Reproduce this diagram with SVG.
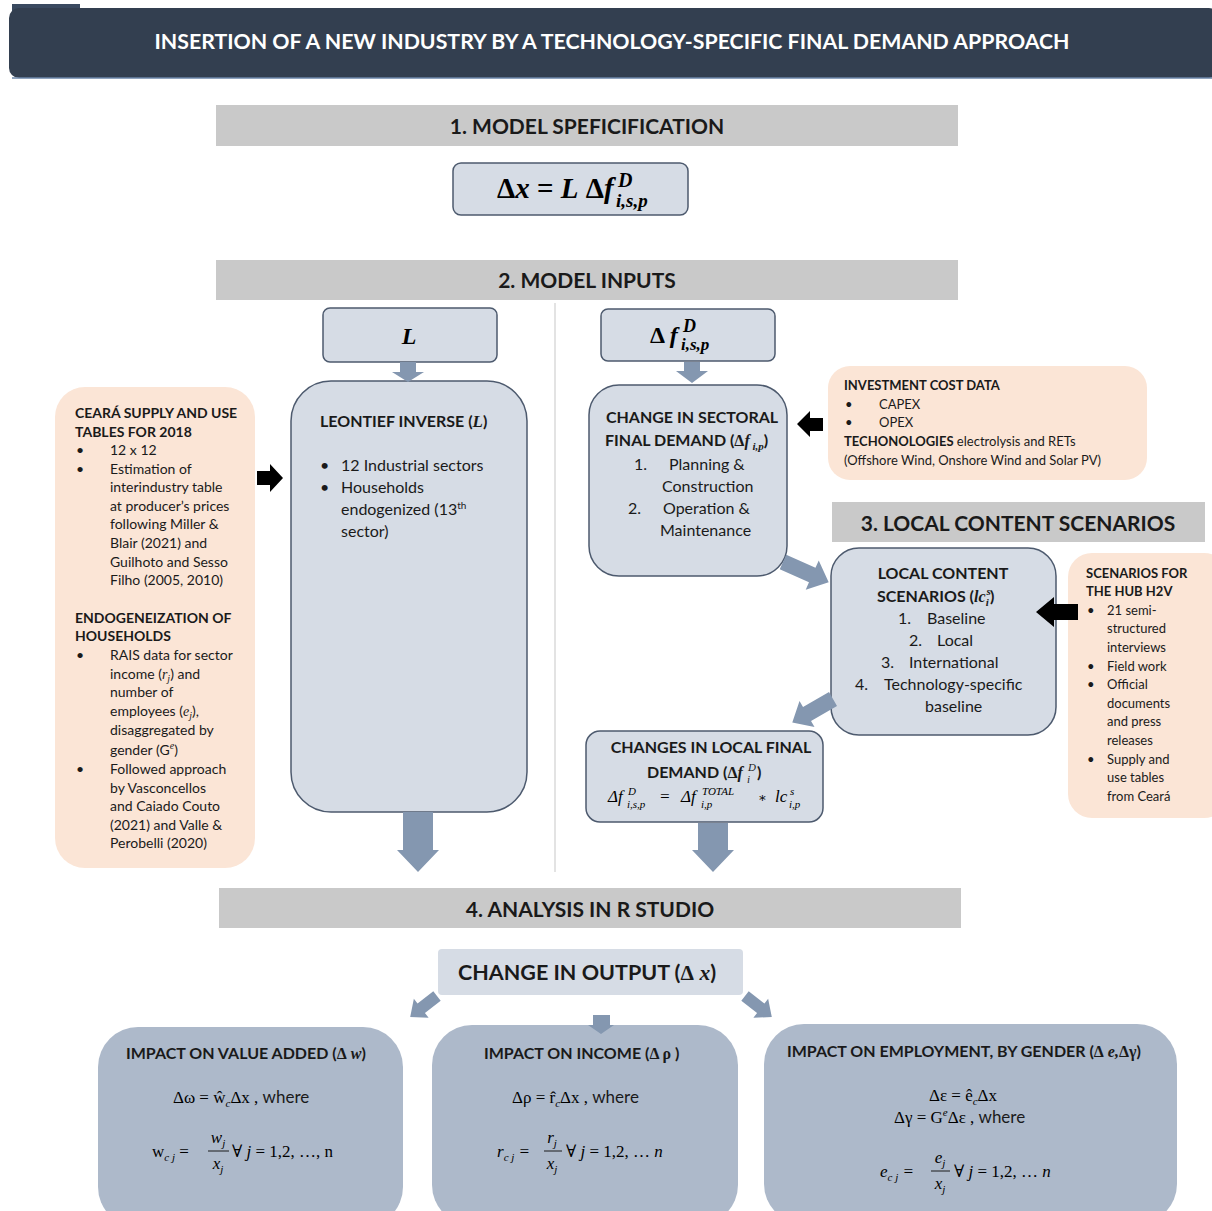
<svg xmlns="http://www.w3.org/2000/svg" width="1212" height="1211" viewBox="0 0 1212 1211">
<style>
.t{font-family:Lato,"Open Sans","Liberation Sans",sans-serif;fill:#1a1a1a}
.b{font-weight:bold}
.m{font-family:"Liberation Serif","DejaVu Serif",serif;font-style:italic}
.mu{font-family:"Liberation Serif","DejaVu Serif",serif}
.hdr{fill:#C9C9C9}
.box{fill:#D6DCE5;stroke:#4D5A6E;stroke-width:1.5}
.peach{fill:#FBE5D6}
.bot{fill:#ADB9CA}
.arr{fill:#8497B0}
.blk{fill:#000}
</style>
<rect width="1212" height="1211" fill="#fff"/>
<g id="title">
<rect x="12" y="4" width="68" height="8" fill="#3a4a60"/>
<rect x="9" y="8" width="1210" height="70" rx="10" fill="#333F50"/>
<line x1="12" y1="78" x2="1212" y2="78" stroke="#6b86a8" stroke-width="1.5"/>
<text x="612" y="49" text-anchor="middle" class="t b" style="fill:#fff" font-size="20" textLength="915" lengthAdjust="spacingAndGlyphs">INSERTION OF A NEW INDUSTRY BY A TECHNOLOGY-SPECIFIC FINAL DEMAND APPROACH</text>
</g>
<g id="sec1">
<rect x="216" y="105" width="742" height="41" class="hdr"/>
<text x="587" y="134" text-anchor="middle" class="t b" font-size="21">1. MODEL SPEFICIFICATION</text>
</g>
<g id="formula-main">
<rect x="453" y="163" width="235" height="52" rx="8" class="box"/>
<text x="497" y="198" class="mu b" font-size="29">Δ<tspan class="m">x</tspan> = <tspan class="m">L</tspan> Δ<tspan class="m">f</tspan></text>
<text x="618" y="187" class="m b" font-size="20">D</text>
<text x="616" y="207" class="m b" font-size="19">i,s,p</text>
</g>
<g id="sec2">
<rect x="216" y="260" width="742" height="40" class="hdr"/>
<text x="587" y="288" text-anchor="middle" class="t b" font-size="21">2. MODEL INPUTS</text>
</g>
<line x1="555" y1="303" x2="555" y2="872" stroke="#E3E3E3" stroke-width="2"/>
<g id="node-L">
<rect x="323" y="308" width="174" height="54" rx="7" class="box"/>
<text x="409" y="344" text-anchor="middle" class="m b" font-size="24">L</text>
</g>
<g id="node-df">
<rect x="601" y="309" width="174" height="52" rx="7" class="box"/>
<text x="650" y="343" class="mu b" font-size="24">Δ <tspan class="m">f</tspan></text>
<text x="683" y="332" class="m b" font-size="18">D</text>
<text x="681" y="350" class="m b" font-size="17">i,s,p</text>
</g>
<g id="node-leontief">
<rect x="291" y="381" width="236" height="431" rx="40" class="box"/>
<text x="320" y="427" class="t b" font-size="16">LEONTIEF INVERSE (<tspan class="m" font-size="17">L</tspan>)</text>
<text x="320" y="471" class="t" font-size="16">•</text>
<text x="341" y="471" class="t" font-size="16">12 Industrial sectors</text>
<text x="320" y="493" class="t" font-size="16">•</text>
<text x="341" y="493" class="t" font-size="16">Households</text>
<text x="341" y="515" class="t" font-size="16">endogenized (13<tspan font-size="10" dy="-6">th</tspan></text>
<text x="341" y="537" class="t" font-size="16">sector)</text>
</g>
<g id="node-ceara">
<rect x="55" y="387" width="200" height="481" rx="30" class="peach"/>
<g class="t" font-size="14">
<text x="75" y="418" class="b">CEARÁ SUPPLY AND USE</text>
<text x="75" y="437" class="b">TABLES FOR 2018</text>
<text x="76" y="455">•</text><text x="110" y="455">12 x 12</text>
<text x="76" y="474">•</text><text x="110" y="474">Estimation of</text>
<text x="110" y="492">interindustry table</text>
<text x="110" y="511">at producer’s prices</text>
<text x="110" y="529">following Miller &amp;</text>
<text x="110" y="548">Blair (2021) and</text>
<text x="110" y="567">Guilhoto and Sesso</text>
<text x="110" y="585">Filho (2005, 2010)</text>
<text x="75" y="623" class="b">ENDOGENEIZATION OF</text>
<text x="75" y="641" class="b">HOUSEHOLDS</text>
<text x="76" y="660">•</text><text x="110" y="660">RAIS data for sector</text>
<text x="110" y="679">income (<tspan class="m">r<tspan font-size="10" dy="3">j</tspan></tspan><tspan dy="-3">) and</tspan></text>
<text x="110" y="697">number of</text>
<text x="110" y="716">employees (<tspan class="m">e<tspan font-size="10" dy="3">j</tspan></tspan><tspan dy="-3">),</tspan></text>
<text x="110" y="735">disaggregated by</text>
<text x="110" y="755">gender (G<tspan class="m" font-size="10" dy="-6">e</tspan><tspan dy="6">)</tspan></text>
<text x="76" y="774">•</text><text x="110" y="774">Followed approach</text>
<text x="110" y="793">by Vasconcellos</text>
<text x="110" y="811">and Caiado Couto</text>
<text x="110" y="830">(2021) and Valle &amp;</text>
<text x="110" y="848">Perobelli (2020)</text>
</g>
</g>
<g id="node-sectoral">
<rect x="589" y="385" width="198" height="191" rx="30" class="box"/>
<g class="t" font-size="16">
<text x="692" y="423" text-anchor="middle" class="b">CHANGE IN SECTORAL</text>
<text x="605" y="446" class="b">FINAL DEMAND (<tspan class="mu">Δ</tspan><tspan class="m">f</tspan><tspan class="m" font-size="11" dy="4"> i,p</tspan><tspan dy="-4">)</tspan></text>
<text x="634" y="470">1.</text><text x="669" y="470">Planning &amp;</text>
<text x="662" y="492">Construction</text>
<text x="628" y="514">2.</text><text x="663" y="514">Operation &amp;</text>
<text x="660" y="536">Maintenance</text>
</g>
</g>
<g id="node-investment">
<rect x="828" y="366" width="319" height="114" rx="22" class="peach"/>
<g class="t" font-size="13">
<text x="844" y="390" class="b">INVESTMENT COST DATA</text>
<text x="845" y="409">•</text><text x="879" y="409">CAPEX</text>
<text x="845" y="427">•</text><text x="879" y="427">OPEX</text>
<text x="844" y="446"><tspan class="b">TECHONOLOGIES</tspan> electrolysis and RETs</text>
<text x="844" y="465">(Offshore Wind, Onshore Wind and Solar PV)</text>
</g>
</g>
<g id="sec3">
<rect x="832" y="502" width="373" height="40" class="hdr"/>
<text x="1018" y="531" text-anchor="middle" class="t b" font-size="21">3. LOCAL CONTENT SCENARIOS</text>
</g>
<g id="node-localcontent">
<rect x="831" y="548" width="225" height="187" rx="28" class="box"/>
<g class="t" font-size="16">
<text x="943" y="579" text-anchor="middle" class="b">LOCAL CONTENT</text>
<text x="877" y="602" class="b">SCENARIOS (<tspan class="m">lc</tspan><tspan class="m" font-size="11" dx="1" dy="-7">s</tspan><tspan class="m" font-size="11" dx="-5" dy="11">i</tspan><tspan dx="1" dy="-4">)</tspan></text>
<text x="898" y="624">1.</text><text x="927" y="624">Baseline</text>
<text x="909" y="646">2.</text><text x="937" y="646">Local</text>
<text x="881" y="668">3.</text><text x="909" y="668">International</text>
<text x="855" y="690">4.</text><text x="884" y="690">Technology-specific</text>
<text x="925" y="712">baseline</text>
</g>
</g>
<g id="node-hub">
<rect x="1068" y="553" width="160" height="265" rx="24" class="peach"/>
<g class="t" font-size="13">
<text x="1086" y="578" class="b">SCENARIOS FOR</text>
<text x="1086" y="596" class="b">THE HUB H2V</text>
<text x="1087" y="615">•</text><text x="1107" y="615">21 semi-</text>
<text x="1107" y="633">structured</text>
<text x="1107" y="652">interviews</text>
<text x="1087" y="671">•</text><text x="1107" y="671">Field work</text>
<text x="1087" y="689">•</text><text x="1107" y="689">Official</text>
<text x="1107" y="708">documents</text>
<text x="1107" y="726">and press</text>
<text x="1107" y="745">releases</text>
<text x="1087" y="764">•</text><text x="1107" y="764">Supply and</text>
<text x="1107" y="782">use tables</text>
<text x="1107" y="801">from Ceará</text>
</g>
</g>
<g id="node-localfd">
<rect x="586" y="731" width="237" height="91" rx="14" class="box"/>
<g class="t" font-size="16">
<text x="711" y="753" text-anchor="middle" class="b">CHANGES IN LOCAL FINAL</text>
<text x="647" y="778" class="b">DEMAND (<tspan class="mu">Δ</tspan><tspan class="m">f</tspan></text>
<text x="748" y="771" class="m" font-size="11">D</text>
<text x="747" y="783" class="m" font-size="11">i</text>
<text x="757" y="778" class="t b" font-size="16">)</text>
</g>
<g class="m" font-size="17">
<text x="608" y="802"><tspan class="mu">Δ</tspan>f</text>
<text x="628" y="795" font-size="11">D</text>
<text x="627" y="808" font-size="11">i,s,p</text>
<text x="659" y="802" class="mu">=</text>
<text x="681" y="802"><tspan class="mu">Δ</tspan>f</text>
<text x="702" y="795" font-size="11">TOTAL</text>
<text x="701" y="808" font-size="11">i,p</text>
<text x="758" y="802" class="mu" font-size="13">∗</text>
<text x="775" y="802">lc</text>
<text x="790" y="795" font-size="11">s</text>
<text x="789" y="808" font-size="11">i,p</text>
</g>
</g>
<g id="sec4">
<rect x="219" y="888" width="742" height="40" class="hdr"/>
<text x="590" y="917" text-anchor="middle" class="t b" font-size="21">4. ANALYSIS IN R STUDIO</text>
</g>
<g id="node-output">
<rect x="438" y="949" width="305" height="46" rx="4" fill="#D6DCE5"/>
<text x="458" y="980" class="t b" font-size="21.5">CHANGE IN OUTPUT (<tspan class="mu">Δ</tspan><tspan class="m"> x</tspan>)</text>
</g>
<g id="node-va">
<rect x="98" y="1027" width="305" height="200" rx="40" class="bot"/>
<text x="126" y="1059" class="t b" font-size="16">IMPACT ON VALUE ADDED (<tspan class="mu">Δ</tspan><tspan class="m"> w</tspan>)</text>
<text x="173" y="1103" class="mu" font-size="17">Δω =  ŵ<tspan font-size="11" dy="4" class="m">c</tspan><tspan dy="-4">Δx , </tspan><tspan class="t">where</tspan></text>
<text x="152" y="1157" class="mu" font-size="17">w<tspan class="m" font-size="11" dy="4">c j</tspan><tspan dy="-4"> =</tspan></text>
<text x="218" y="1143" text-anchor="middle" class="m" font-size="17">w<tspan font-size="11" dy="4">j</tspan></text>
<line x1="208" y1="1151" x2="229" y2="1151" stroke="#1a1a1a" stroke-width="1"/>
<text x="218" y="1169" text-anchor="middle" class="m" font-size="17">x<tspan font-size="11" dy="4">j</tspan></text>
<text x="232" y="1157" class="mu" font-size="17">∀ <tspan class="m">j</tspan> = 1,2, …, n</text>
</g>
<g id="node-income">
<rect x="432" y="1025" width="306" height="200" rx="40" class="bot"/>
<text x="484" y="1059" class="t b" font-size="16">IMPACT ON INCOME (<tspan class="mu">Δ ρ</tspan> )</text>
<text x="512" y="1103" class="mu" font-size="17">Δρ =  r̂<tspan font-size="11" dy="4" class="m">c</tspan><tspan dy="-4">Δx , </tspan><tspan class="t">where</tspan></text>
<text x="497" y="1157" class="m" font-size="17">r<tspan font-size="11" dy="4">c j</tspan><tspan class="mu" dy="-4"> =</tspan></text>
<text x="552" y="1143" text-anchor="middle" class="m" font-size="17">r<tspan font-size="11" dy="4">j</tspan></text>
<line x1="544" y1="1151" x2="562" y2="1151" stroke="#1a1a1a" stroke-width="1"/>
<text x="552" y="1169" text-anchor="middle" class="m" font-size="17">x<tspan font-size="11" dy="4">j</tspan></text>
<text x="566" y="1157" class="mu" font-size="17">∀ <tspan class="m">j</tspan> = 1,2, … <tspan class="m">n</tspan></text>
</g>
<g id="node-employment">
<rect x="764" y="1024" width="413" height="200" rx="40" class="bot"/>
<text x="787" y="1057" class="t b" font-size="16">IMPACT ON EMPLOYMENT, BY GENDER (<tspan class="mu">Δ</tspan><tspan class="m"> e,</tspan><tspan class="mu">Δγ</tspan>)</text>
<text x="929" y="1101" class="mu" font-size="17">Δε =  ê<tspan font-size="11" dy="4" class="m">c</tspan><tspan dy="-4">Δx</tspan></text>
<text x="894" y="1123" class="mu" font-size="17">Δγ =  G<tspan font-size="11" dy="-7" class="m">e</tspan><tspan dy="7">Δε ,  </tspan><tspan class="t">where</tspan></text>
<text x="880" y="1177" class="m" font-size="17">e<tspan font-size="11" dy="4">c j</tspan><tspan class="mu" dy="-4"> =</tspan></text>
<text x="940" y="1163" text-anchor="middle" class="m" font-size="17">e<tspan font-size="11" dy="4">j</tspan></text>
<line x1="931" y1="1171" x2="950" y2="1171" stroke="#1a1a1a" stroke-width="1"/>
<text x="940" y="1189" text-anchor="middle" class="m" font-size="17">x<tspan font-size="11" dy="4">j</tspan></text>
<text x="954" y="1177" class="mu" font-size="17">∀ <tspan class="m">j</tspan> = 1,2, … <tspan class="m">n</tspan></text>
</g>
<g id="connectors">
<polygon class="arr" points="400,362 416,362 416,372 424,372 408,382 392,372 400,372"/>
<polygon class="arr" points="403,812 433,812 433,850 439,850 418,872 397,850 403,850"/>
<polygon class="arr" points="684,362 700,362 700,371 708,371 692,383 676,371 684,371"/>
<polygon class="arr" points="0,-8 32,-8 32,-16 50,0 32,16 32,8 0,8" transform="translate(783,562) rotate(24)"/>
<polygon class="arr" points="0,-8 30,-8 30,-15 47,0 30,15 30,8 0,8" transform="translate(833,699) rotate(150)"/>
<polygon class="arr" points="698,823 728,823 728,850 734,850 713,872 692,850 698,850"/>
<polygon class="arr" points="0,-6 20,-6 20,-12 34,0 20,12 20,6 0,6" transform="translate(437,996) rotate(142)"/>
<polygon class="arr" points="593,1015 610,1015 610,1025 614,1025 601,1034 588,1025 593,1025"/>
<polygon class="arr" points="0,-6 20,-6 20,-12 34,0 20,12 20,6 0,6" transform="translate(745,996) rotate(38)"/>
<polygon class="blk" points="257,471 270,471 270,464 283,478 270,492 270,485 257,485"/>
<polygon class="blk" points="823,418 810,418 810,411 797,424 810,437 810,431 823,431"/>
<polygon class="blk" points="1078,604 1054,604 1054,597 1036,612 1054,627 1054,620 1078,620"/>
</g>
</svg>
